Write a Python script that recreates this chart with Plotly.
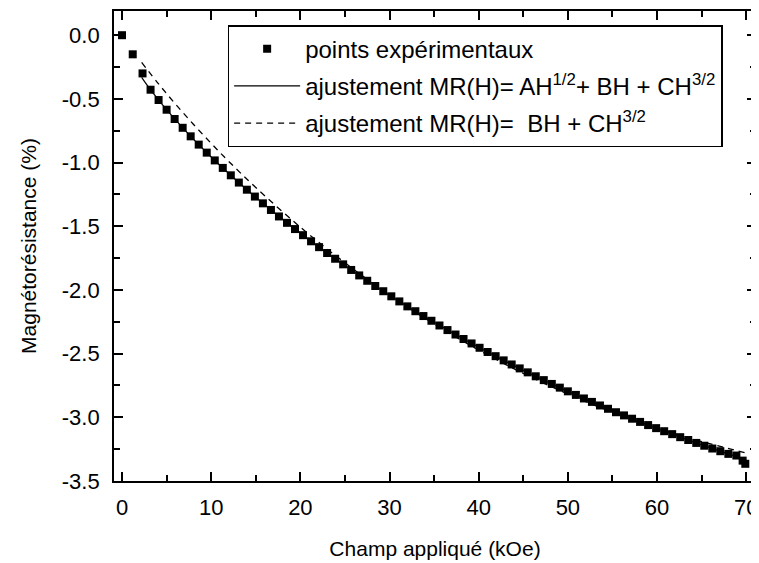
import plotly.graph_objects as go

# experimental points (kOe, %)
h_exp = [0.0, 1.2, 2.3, 3.2, 4.1, 5.0, 5.9, 6.8, 7.7, 8.6, 9.5, 10.4, 11.3, 12.2, 13.1,
         14.0, 14.9, 15.8, 16.7, 17.6, 18.5, 19.4, 20.3, 21.2, 22.1, 23.0, 23.9, 24.8,
         25.7, 26.6, 27.5, 28.4, 29.3, 30.2, 31.1, 32.0, 32.9, 33.8, 34.7, 35.6, 36.5,
         37.4, 38.3, 39.2, 40.1, 41.0, 41.9, 42.8, 43.7, 44.6, 45.5, 46.4, 47.3, 48.2,
         49.1, 50.0, 50.9, 51.8, 52.7, 53.6, 54.5, 55.4, 56.3, 57.2, 58.1, 59.0, 59.9,
         60.8, 61.7, 62.6, 63.5, 64.4, 65.3, 66.2, 67.1, 68.0, 68.9, 69.6, 69.9]
mr_exp = [0.0, -0.15, -0.30, -0.428, -0.509, -0.585, -0.658, -0.727, -0.794, -0.859,
          -0.922, -0.983, -1.042, -1.100, -1.157, -1.213, -1.267, -1.320, -1.372, -1.423,
          -1.473, -1.522, -1.570, -1.618, -1.664, -1.710, -1.755, -1.799, -1.843, -1.886,
          -1.928, -1.969, -2.010, -2.050, -2.090, -2.129, -2.167, -2.205, -2.242, -2.279,
          -2.315, -2.350, -2.385, -2.420, -2.454, -2.487, -2.520, -2.553, -2.585, -2.616,
          -2.647, -2.678, -2.708, -2.738, -2.767, -2.796, -2.824, -2.852, -2.879, -2.907,
          -2.933, -2.960, -2.985, -3.011, -3.036, -3.061, -3.085, -3.109, -3.132, -3.156,
          -3.178, -3.201, -3.223, -3.245, -3.266, -3.287, -3.300, -3.340, -3.365]

# fit AH^1/2 + BH + CH^3/2
h_fit1 = [2.2, 3, 4, 5, 6, 8, 10, 12, 15, 20, 25, 30, 35, 40, 45, 50, 55, 60, 65, 70]
mr_fit1 = [-0.331, -0.410, -0.500, -0.585, -0.665, -0.816, -0.956, -1.088, -1.273, -1.554,
           -1.809, -2.041, -2.254, -2.450, -2.630, -2.796, -2.948, -3.088, -3.216, -3.332]

# fit BH + CH^3/2
h_fit2 = [2.2, 4, 6, 8, 10, 12, 15, 20, 25, 30, 35, 40, 45, 50, 55, 60, 65, 70]
mr_fit2 = [-0.214, -0.374, -0.541, -0.699, -0.849, -0.993, -1.196, -1.507, -1.787, -2.040,
           -2.267, -2.472, -2.655, -2.817, -2.960, -3.084, -3.190, -3.280]

# tick labels (plain hyphen minus as in the original)
y_ticks = [0.0, -0.5, -1.0, -1.5, -2.0, -2.5, -3.0, -3.5]
y_labels = ['0.0', '-0.5', '-1.0', '-1.5', '-2.0', '-2.5', '-3.0', '-3.5']
x_ticks = [0, 10, 20, 30, 40, 50, 60, 70]

FONT = 'Liberation Sans, Arial'

fig = go.Figure()
fig.add_trace(go.Scatter(
    x=h_exp, y=mr_exp, mode='markers', name='points expérimentaux',
    marker=dict(symbol='square', size=8, color='black'), legendgroup='a'))
fig.add_trace(go.Scatter(
    x=h_fit1, y=mr_fit1, mode='lines', line=dict(color='black', width=1.2, shape='spline'),
    name='ajustement MR(H)= AH<sup>1/2</sup>+ BH + CH<sup>3/2</sup>', legendgroup='b'))
fig.add_trace(go.Scatter(
    x=h_fit2, y=mr_fit2, mode='lines',
    line=dict(color='black', width=1.3, dash='6px,5px', shape='spline'),
    name='ajustement MR(H)=  BH + CH<sup>3/2</sup>', legendgroup='c'))

axis_style = dict(
    showline=True, linecolor='black', linewidth=1.8, mirror='ticks',
    ticks='inside', ticklen=9, tickwidth=1.5, tickcolor='black',
    showgrid=False, zeroline=False,
    tickfont=dict(family=FONT, size=22, color='black'),
)

fig.update_xaxes(
    range=[-0.9, 71.1], tickmode='array', tickvals=x_ticks,
    minor=dict(dtick=5, tick0=0, ticks='inside', ticklen=6, tickcolor='black', tickwidth=1.5),
    ticklabelstandoff=6,
    title=dict(text='Champ appliqué (kOe)', standoff=22,
               font=dict(family=FONT, size=21, color='black')),
    **axis_style)
fig.update_yaxes(
    range=[-3.5, 0.19], tickmode='array', tickvals=y_ticks, ticktext=y_labels,
    minor=dict(dtick=0.25, tick0=0, ticks='inside', ticklen=6, tickcolor='black', tickwidth=1.5),
    ticklabelstandoff=8,
    **axis_style)

# y title as a rotated annotation, centred on the plot height
fig.add_annotation(
    text='Magnétorésistance (%)', xref='paper', yref='paper',
    x=-0.134, y=0.5, xanchor='center', yanchor='middle', textangle=-90,
    showarrow=False, font=dict(family=FONT, size=21, color='black'))

fig.update_layout(
    width=751, height=555,
    margin=dict(l=106, r=2, t=1, b=82),
    plot_bgcolor='white', paper_bgcolor='white',
    font=dict(family=FONT, color='black'),
    legend=dict(
        x=0.177, y=0.97, xanchor='left', yanchor='top',
        bordercolor='black', borderwidth=1.5, bgcolor='white',
        font=dict(family=FONT, size=24, color='black'),
        tracegroupgap=3, itemwidth=66,
    ),
)

fig.write_html("out.html")
